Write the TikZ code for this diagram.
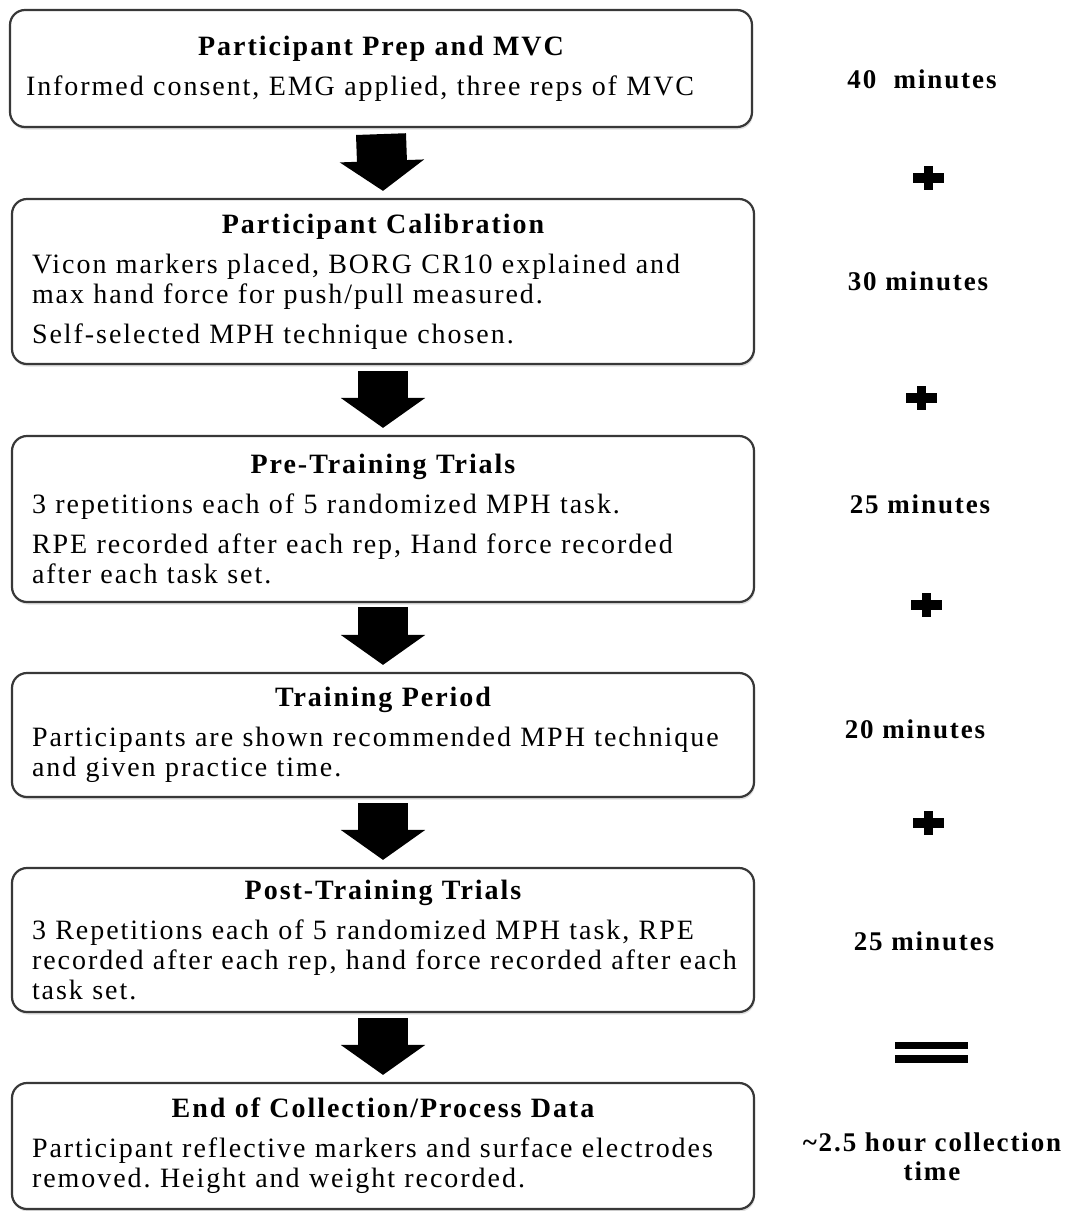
\documentclass[tikz,border=0pt]{standalone}
\usepackage{fontspec}
\setmainfont{Liberation Serif}[LetterSpace=7]
\usetikzlibrary{arrows.meta,shadows}
\frenchspacing
\newcommand{\stagehead}[1]{\makebox[\hsize]{\bfseries #1}\\[10pt]}
\begin{document}
\begin{tikzpicture}[x=1pt,y=-1pt,
	stage/.style={draw=black!78,line width=2.2pt,rounded corners=15pt,fill=white,minimum width=742pt,text width=702pt,inner xsep=20pt,align=left,font=\fontsize{28}{30}\selectfont,drop shadow={shadow xshift=1pt,shadow yshift=-2.5pt,opacity=0.25}},
	flow/.style={line width=50pt,-{Triangle[width=83pt,length=30pt]}},
	tally/.style={font=\fontsize{27}{29}\selectfont\bfseries,align=center},
	sign/.style={line width=9.5pt}]
	\useasboundingbox (0,0) rectangle (1078,1211);
	\node[stage,minimum height=117pt,inner xsep=16pt,text width=710pt] (prep) at (381,68.5) {\stagehead{Participant Prep and MVC}Informed consent, EMG applied, three reps of MVC};
	\node[stage,minimum height=165pt] (calib) at (383,281.5) {\stagehead{Participant Calibration}Vicon markers placed, BORG CR10 explained and\\max hand force for push/pull measured.\\[10pt]Self-selected MPH technique chosen.};
	\node[stage,minimum height=166pt] (pretrial) at (383,519) {\stagehead{Pre-Training Trials}3 repetitions each of 5 randomized MPH task.\\[10pt]RPE recorded after each rep, Hand force recorded\\after each task set.};
	\node[stage,minimum height=124pt] (training) at (383,735) {\stagehead{Training Period}Participants are shown recommended MPH technique\\and given practice time.};
	\node[stage,minimum height=144pt] (posttrial) at (383,940) {\stagehead{Post-Training Trials}3 Repetitions each of 5 randomized MPH task, RPE\\recorded after each rep, hand force recorded after each\\task set.};
	\node[stage,minimum height=126pt] (finish) at (383,1146) {\stagehead{End of Collection/Process Data}Participant reflective markers and surface electrodes\\removed. Height and weight recorded.};
	\draw[flow] ([yshift=-6pt]prep.south) -- ([yshift=7pt]calib.north);
	\draw[flow] ([yshift=-6pt]calib.south) -- ([yshift=7pt]pretrial.north);
	\draw[flow] ([yshift=-4pt]pretrial.south) -- ([yshift=7pt]training.north);
	\draw[flow] ([yshift=-5pt]training.south) -- ([yshift=7pt]posttrial.north);
	\draw[flow] ([yshift=-5pt]posttrial.south) -- ([yshift=7pt]finish.north);
	\node[tally] (preptime) at (922,79) {40~ minutes};
	\node[tally] (calibtime) at (918,281) {30 minutes};
	\node[tally] (pretime) at (920,504) {25 minutes};
	\node[tally] (traintime) at (915,729) {20 minutes};
	\node[tally] (posttime) at (924,941) {25 minutes};
	\node[tally] (totaltime) at (932,1157) {\textasciitilde2.5 hour collection\\time};
	\draw[sign] (913,178) -- (944,178) (928.5,166) -- (928.5,190);
	\draw[sign] (906,398) -- (937,398) (921.5,386) -- (921.5,410);
	\draw[sign] (911,605) -- (942,605) (926.5,593) -- (926.5,617);
	\draw[sign] (913,823) -- (944,823) (928.5,811) -- (928.5,835);
	\fill (895,1042) rectangle (968,1049);
	\fill (895,1055) rectangle (968,1063);
\end{tikzpicture}
\end{document}
